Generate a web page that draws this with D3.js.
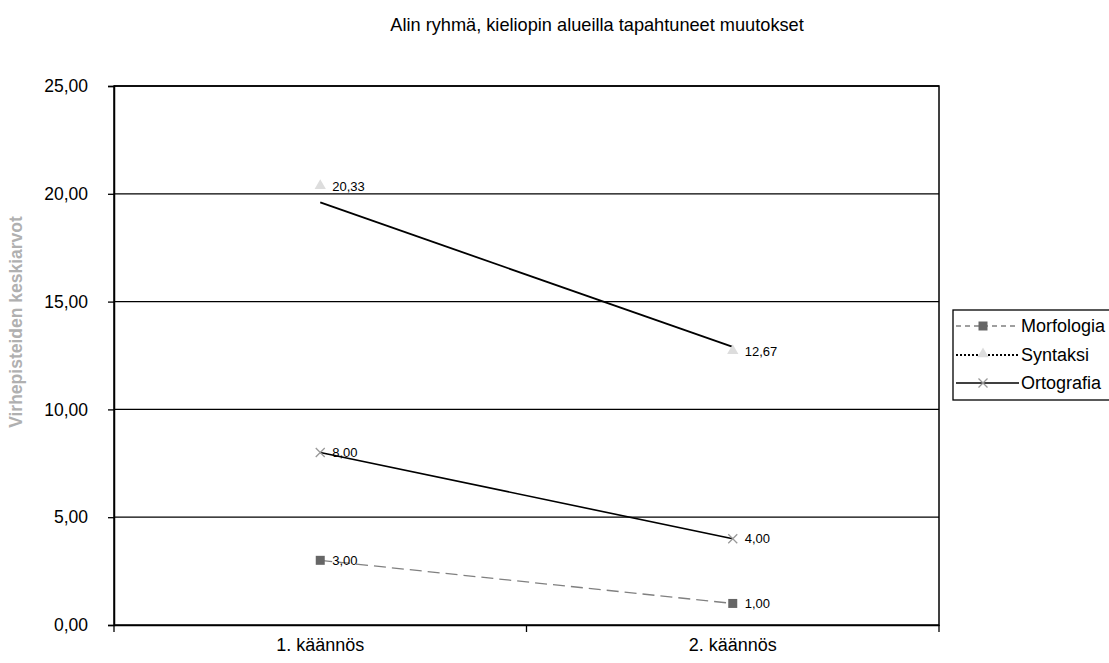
<!DOCTYPE html>
<html><head><meta charset="utf-8">
<script src="https://cdn.jsdelivr.net/npm/d3@7"></script>
<style>body{margin:0;background:#fff}svg{display:block;font-family:"Liberation Sans",Arial,sans-serif}</style>
</head><body><svg id="c" width="1109" height="663"></svg>
<script>
const categories = ["1. käännös", "2. käännös"];
const morfologia = [3.00, 1.00];
const syntaksi = [20.33, 12.67];
const ortografia = [8.00, 4.00];
const syntaksiTrend = [19.6, 12.9];
const yTicks = [0, 5, 10, 15, 20, 25];
const title = "Alin ryhmä, kieliopin alueilla tapahtuneet muutokset";
const yLabel = "Virhepisteiden keskiarvot";
const seriesNames = ["Morfologia", "Syntaksi", "Ortografia"];

const FF = '"Liberation Sans",Arial,sans-serif';
const svg = d3.select("#c");
const L = 114, R = 939, T = 86, B = 625;
const x = d3.scaleBand().domain(categories).range([L, R]);
const y = d3.scaleLinear().domain([0, 25]).range([B, T]);
const fmt = v => d3.format(".2f")(v).replace(".", ",");
const cx = c => x(c) + x.bandwidth() / 2;

// gridlines
svg.append("g").selectAll("line").data(yTicks.filter(t => t > 0)).join("line")
  .attr("x1", L).attr("x2", R).attr("y1", d => y(d)).attr("y2", d => y(d))
  .attr("stroke", "#000").attr("stroke-width", 1.3);

// frame
svg.append("rect").attr("x", L).attr("y", T).attr("width", R - L).attr("height", B - T)
  .attr("fill", "none").attr("stroke", "#000").attr("stroke-width", 1.5);

// y axis
const ya = svg.append("g").attr("transform", `translate(${L},0)`)
  .call(d3.axisLeft(y).tickValues(yTicks).tickFormat(fmt).tickSize(6).tickPadding(20));
ya.select(".domain").attr("stroke", "#000").attr("stroke-width", 1.5);
ya.selectAll(".tick line").attr("stroke", "#000").attr("stroke-width", 1.3);
ya.selectAll("text").attr("font-size", 17.5).attr("fill", "#000").attr("font-family", FF);

// x axis
const xa = svg.append("g").attr("transform", `translate(0,${B})`)
  .call(d3.axisBottom(x).tickSize(0).tickPadding(13));
xa.select(".domain").attr("stroke", "#000").attr("stroke-width", 1.5);
xa.selectAll("text").attr("font-size", 18).attr("fill", "#000").attr("font-family", FF);
const bounds = [L, x(categories[1]), R];
svg.append("g").selectAll("line").data(bounds).join("line")
  .attr("x1", d => d).attr("x2", d => d).attr("y1", B).attr("y2", B + 7)
  .attr("stroke", "#000").attr("stroke-width", 1.3);

// title
svg.append("text").attr("x", 597).attr("y", 31).attr("text-anchor", "middle")
  .attr("font-size", 18.2).attr("fill", "#000").text(title);

// y label
svg.append("text").attr("transform", "translate(22,322) rotate(-90)")
  .attr("text-anchor", "middle").attr("font-size", 17.5).attr("fill", "#b0b0b0")
  .attr("font-weight", "bold").text(yLabel);

const line = d3.line().x((d, i) => cx(categories[i])).y(d => y(d));

// lines
svg.append("path").datum(morfologia).attr("d", line).attr("fill", "none")
  .attr("stroke", "#808080").attr("stroke-width", 1.3).attr("stroke-dasharray", "12,6");
svg.append("path").datum(ortografia).attr("d", line).attr("fill", "none")
  .attr("stroke", "#000").attr("stroke-width", 1.6);
svg.append("path").datum(syntaksiTrend).attr("d", line).attr("fill", "none")
  .attr("stroke", "#000").attr("stroke-width", 1.8);

// markers
const sq = d3.symbol().type(d3.symbolSquare).size(81);
const tri = d3.symbol().type(d3.symbolTriangle).size(55);
const xPath = (px, py, s) => `M${px - s},${py - s}L${px + s},${py + s}M${px - s},${py + s}L${px + s},${py - s}`;
function drawMarkers(vals, kind) {
  vals.forEach((v, i) => {
    const px = cx(categories[i]), py = y(v);
    if (kind === "sq") svg.append("path").attr("d", sq()).attr("transform", `translate(${px},${py})`).attr("fill", "#666");
    if (kind === "tri") svg.append("path").attr("d", tri()).attr("transform", `translate(${px},${py - 1})`).attr("fill", "#ddd");
    if (kind === "x") svg.append("path").attr("d", xPath(px, py, 4.5)).attr("stroke", "#999").attr("stroke-width", 1.3);
    svg.append("text").attr("x", px + 12).attr("y", py + 4.5).attr("font-size", 13)
      .attr("fill", "#000").text(fmt(v));
  });
}
drawMarkers(morfologia, "sq");
drawMarkers(syntaksi, "tri");
drawMarkers(ortografia, "x");

// legend
const lg = svg.append("g");
lg.append("rect").attr("x", 953).attr("y", 310).attr("width", 160).attr("height", 90)
  .attr("fill", "#fff").attr("stroke", "#000").attr("stroke-width", 1.3);
const ly = [326, 355, 383];
const lx1 = 956, lx2 = 1019, lm = 983;
lg.append("line").attr("x1", lx1).attr("x2", lx2).attr("y1", ly[0]).attr("y2", ly[0])
  .attr("stroke", "#808080").attr("stroke-width", 1.3).attr("stroke-dasharray", "5,4");
lg.append("path").attr("d", sq()).attr("transform", `translate(${lm},${ly[0]})`).attr("fill", "#666");
lg.append("line").attr("x1", lx1).attr("x2", lx2).attr("y1", ly[1]).attr("y2", ly[1])
  .attr("stroke", "#000").attr("stroke-width", 2).attr("stroke-dasharray", "2,2");
lg.append("path").attr("d", tri()).attr("transform", `translate(${lm},${ly[1] - 1})`).attr("fill", "#ddd");
lg.append("line").attr("x1", lx1).attr("x2", lx2).attr("y1", ly[2]).attr("y2", ly[2])
  .attr("stroke", "#000").attr("stroke-width", 1.3);
lg.append("path").attr("d", xPath(lm, ly[2], 4.5)).attr("stroke", "#999").attr("stroke-width", 1.3);
seriesNames.forEach((n, i) => {
  lg.append("text").attr("x", 1021).attr("y", ly[i] + 6).attr("font-size", 18)
    .attr("fill", "#000").text(n);
});
</script></body></html>
